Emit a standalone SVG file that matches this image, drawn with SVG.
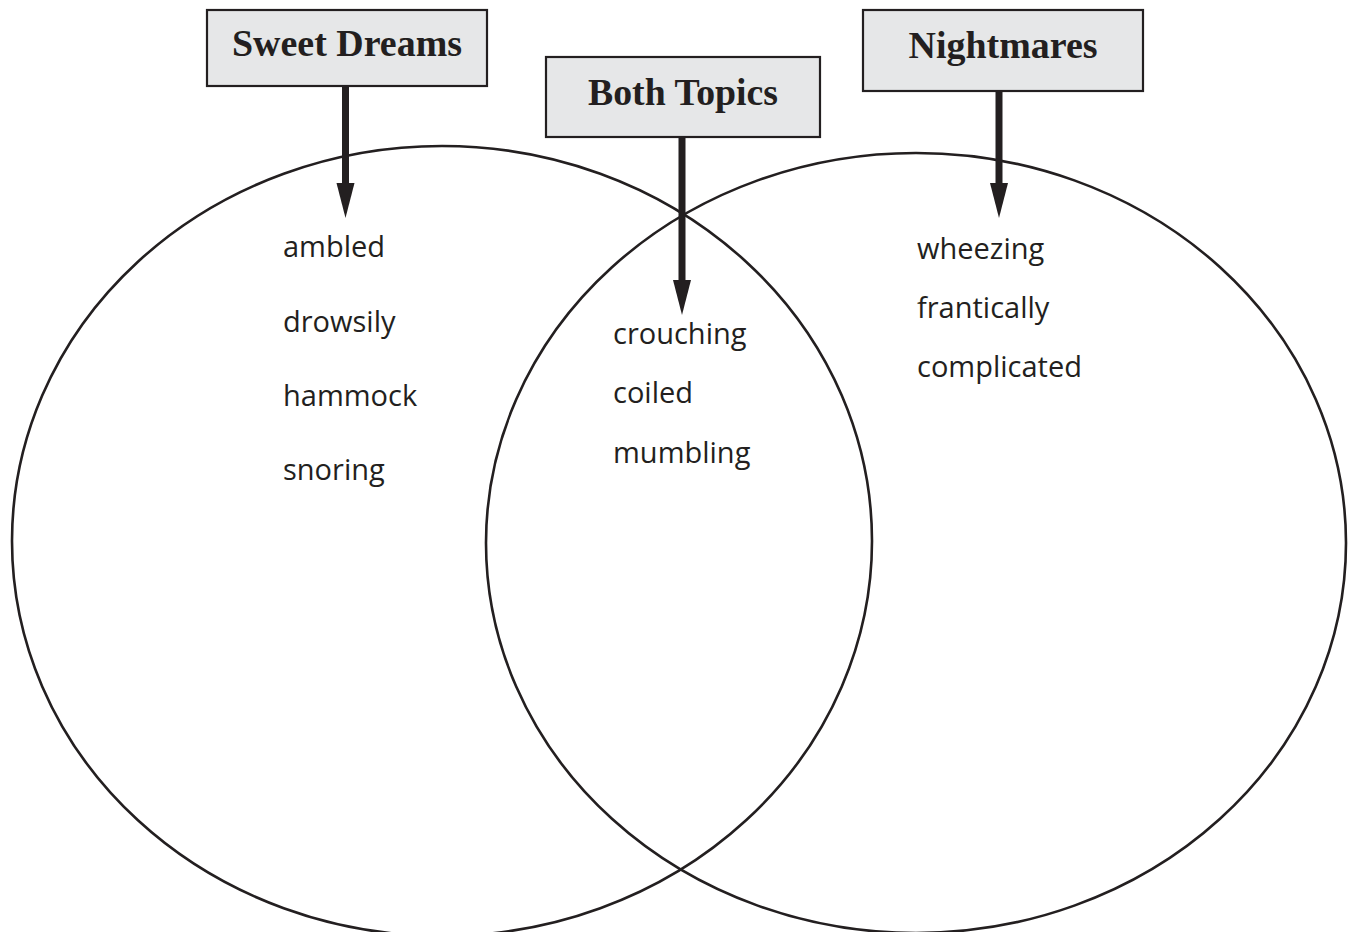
<svg xmlns="http://www.w3.org/2000/svg" width="1350" height="932" viewBox="0 0 1350 932">
<defs>
<style>
.circ{fill:none;stroke:#231f20;stroke-width:2.6}
.box{fill:#e6e7e8;stroke:#231f20;stroke-width:2.2}
.title{font-family:"Liberation Serif","Times New Roman",serif;font-weight:bold;font-size:37px;fill:#231f20;text-anchor:middle}
.word{font-family:"Open Sans","Liberation Sans",sans-serif;font-size:29px;fill:#231f20}
.shaft{stroke:#231f20;stroke-width:7;fill:none}
.head{fill:#231f20}
</style>
</defs>
<rect width="1350" height="932" fill="#ffffff"/>
<g id="circles">
<ellipse class="circ" cx="442" cy="541" rx="430" ry="395"/>
<ellipse class="circ" cx="916" cy="543" rx="430" ry="390"/>
</g>
<g id="connectors">
<line class="shaft" x1="345.5" y1="86" x2="345.5" y2="190"/>
<polygon class="head" points="336.5,183 354.5,183 345.5,218"/>
<line class="shaft" x1="682" y1="137" x2="682" y2="287"/>
<polygon class="head" points="673,280 691,280 682,315"/>
<line class="shaft" x1="999" y1="91" x2="999" y2="190"/>
<polygon class="head" points="990,183 1008,183 999,218"/>
</g>
<g id="node-sweet-dreams">
<rect class="box" x="207" y="10" width="280" height="76"/>
<text class="title" x="347" y="56" textLength="230" lengthAdjust="spacingAndGlyphs">Sweet Dreams</text>
</g>
<g id="node-both-topics">
<rect class="box" x="546" y="57" width="274" height="80"/>
<text class="title" x="683" y="105" textLength="190" lengthAdjust="spacingAndGlyphs">Both Topics</text>
</g>
<g id="node-nightmares">
<rect class="box" x="863" y="10" width="280" height="81"/>
<text class="title" x="1003" y="58" textLength="189" lengthAdjust="spacingAndGlyphs">Nightmares</text>
</g>
<g id="words-sweet">
<text class="word" x="283" y="257">ambled</text>
<text class="word" x="283" y="332">drowsily</text>
<text class="word" x="283" y="406">hammock</text>
<text class="word" x="283" y="480">snoring</text>
</g>
<g id="words-both">
<text class="word" x="613" y="344">crouching</text>
<text class="word" x="613" y="403">coiled</text>
<text class="word" x="613" y="463">mumbling</text>
</g>
<g id="words-night">
<text class="word" x="917" y="259">wheezing</text>
<text class="word" x="917" y="318">frantically</text>
<text class="word" x="917" y="377">complicated</text>
</g>
</svg>
